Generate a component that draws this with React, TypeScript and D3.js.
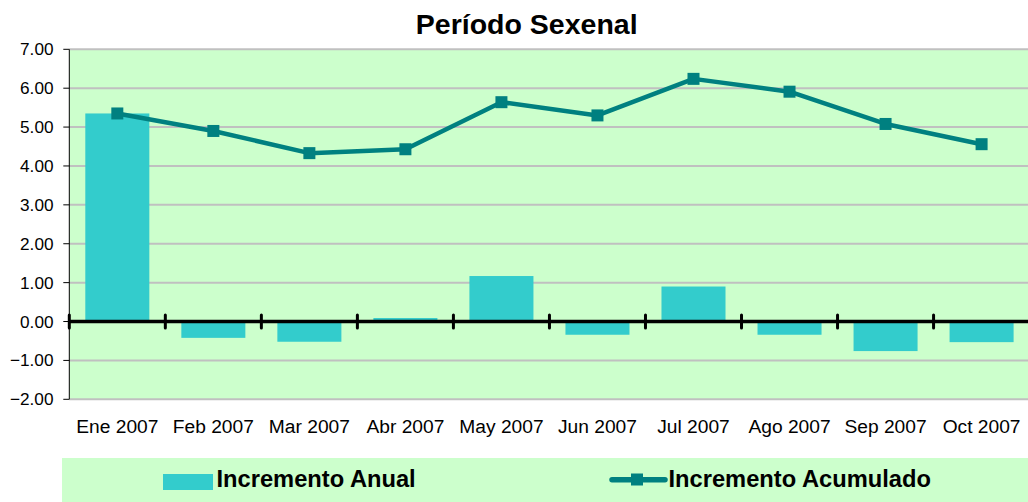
import React from "react";
import * as d3 from "d3";

const categories = ["Ene 2007", "Feb 2007", "Mar 2007", "Abr 2007", "May 2007", "Jun 2007", "Jul 2007", "Ago 2007", "Sep 2007", "Oct 2007"];
const incrementoAnual = [5.35, -0.42, -0.52, 0.09, 1.17, -0.34, 0.9, -0.34, -0.76, -0.53];
const incrementoAcumulado = [5.35, 4.9, 4.33, 4.43, 5.64, 5.3, 6.24, 5.91, 5.08, 4.56];
const yTicks = [-2, -1, 0, 1, 2, 3, 4, 5, 6, 7];
const title = "Período Sexenal";
const legendLabels = ["Incremento Anual", "Incremento Acumulado"];

const W = 1028;
const H = 502;
const FONT = "'Liberation Sans', Arial, Helvetica, sans-serif";
const BAR = "#33CCCC";
const LINE = "#008080";
const BG = "#CCFFCC";

export default function App() {
  const x0 = 69.3;
  const x1 = 1029.6;
  const x = d3.scaleBand<string>().domain(categories).range([x0, x1]).paddingInner(1 / 3).paddingOuter(1 / 6);
  const y = d3.scaleLinear().domain([-2, 7]).range([399.3, 49.3]);
  const step = x.step();
  const bw = x.bandwidth();
  const cx = (c: string) => (x(c) as number) + bw / 2;
  const line = d3
    .line<number>()
    .x((_, i) => cx(categories[i]))
    .y((d) => y(d));
  const boundaries = d3.range(categories.length + 1).map((i) => x0 + i * step);
  const fmt = d3.format(".2f");

  return (
    <svg width={W} height={H} style={{ position: "absolute", left: 0, top: 0, background: "#fff" }} fontFamily={FONT}>
      <rect x={0} y={0} width={W} height={H} fill="#fff" />
      <text x={526.7} y={33.5} textAnchor="middle" fontWeight="bold" fontSize={28.5} fill="#000">
        {title}
      </text>
      {/* plot area */}
      <rect x={x0} y={y(7)} width={x1 - x0} height={y(-2) - y(7)} fill={BG} />
      {yTicks
        .filter((t) => t !== 0)
        .map((t) => (
          <line key={"g" + t} x1={x0} x2={x1} y1={y(t)} y2={y(t)} stroke="#C0C0C0" strokeWidth={2} />
        ))}
      {/* bars */}
      {incrementoAnual.map((v, i) => (
        <rect
          key={"b" + i}
          x={x(categories[i]) as number}
          y={Math.min(y(v), y(0))}
          width={bw}
          height={Math.abs(y(v) - y(0))}
          fill={BAR}
        />
      ))}
      {/* y axis */}
      <line x1={x0} x2={x0} y1={y(7)} y2={y(-2)} stroke="#000" strokeWidth={1} />
      {yTicks.map((t) => (
        <g key={"t" + t}>
          <line x1={x0 - 6} x2={x0} y1={y(t)} y2={y(t)} stroke="#000" strokeWidth={1} />
          <text x={53.5} y={y(t) + 6} textAnchor="end" fontSize={17.2} fill="#000">
            {fmt(t)}
          </text>
        </g>
      ))}
      {/* zero axis */}
      <line x1={x0} x2={x1} y1={y(0)} y2={y(0)} stroke="#000" strokeWidth={3.5} />
      {boundaries.map((b, i) => (
        <line key={"k" + i} x1={b} x2={b} y1={y(0) - 6.5} y2={y(0) + 6.5} stroke="#000" strokeWidth={3} strokeLinecap="round" />
      ))}
      {/* line series */}
      <path d={line(incrementoAcumulado) || ""} fill="none" stroke={LINE} strokeWidth={4.5} strokeLinejoin="round" />
      {incrementoAcumulado.map((v, i) => (
        <rect key={"m" + i} x={cx(categories[i]) - 6} y={y(v) - 6} width={12} height={12} fill={LINE} />
      ))}
      {/* x labels */}
      {categories.map((c) => (
        <text key={"x" + c} x={cx(c)} y={432.7} textAnchor="middle" fontSize={19.2} fill="#000">
          {c}
        </text>
      ))}
      {/* legend */}
      <rect x={62} y={458} width={W - 62 + 5} height={50} fill={BG} />
      <rect x={163} y={474} width={50} height={16} fill={BAR} />
      <text x={216.5} y={487.3} fontSize={23.7} fontWeight="bold" fill="#000">
        {legendLabels[0]}
      </text>
      <line x1={612} x2={665} y1={479.7} y2={479.7} stroke={LINE} strokeWidth={5.5} strokeLinecap="round" />
      <rect x={631} y={473.5} width={12} height={12} fill={LINE} />
      <text x={668.5} y={487} fontSize={23.7} fontWeight="bold" fill="#000">
        {legendLabels[1]}
      </text>
    </svg>
  );
}
